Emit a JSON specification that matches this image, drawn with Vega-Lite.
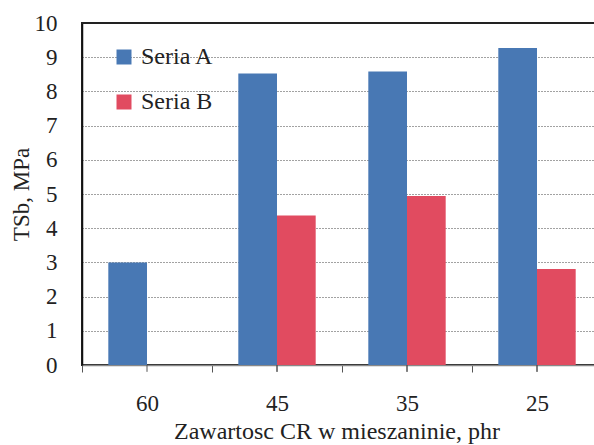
{
  "$schema": "https://vega.github.io/schema/vega-lite/v6.json",
  "width": 513,
  "height": 342,
  "autosize": {"type": "none"},
  "padding": {"left": 82, "top": 23, "right": 0, "bottom": 80},
  "background": "white",
  "view": {"stroke": "#222", "strokeWidth": 2},
  "config": {
    "font": "Liberation Serif",
    "axisY": {
      "values": [0, 1, 2, 3, 4, 5, 6, 7, 8, 9, 10], "tickCount": 11, "labelOverlap": false,
      "grid": true, "ticks": false, "labelPadding": 25, "labelFontSize": 23, "domainColor": "#111", "domainWidth": 1.5,
      "gridDash": [1, 2], "gridColor": "#444", "gridWidth": 1
    },
    "axis": {"labelFont": "Liberation Serif", "titleFont": "Liberation Serif", "labelColor": "#222", "titleColor": "#222", "titleFontWeight": "normal"}
  },
  "data": {
    "values": [
      {"cat": "60", "series": "Seria A", "value": 3.0},
      {"cat": "45", "series": "Seria A", "value": 8.52},
      {"cat": "45", "series": "Seria B", "value": 4.37},
      {"cat": "35", "series": "Seria A", "value": 8.58},
      {"cat": "35", "series": "Seria B", "value": 4.94},
      {"cat": "25", "series": "Seria A", "value": 9.27},
      {"cat": "25", "series": "Seria B", "value": 2.81}
    ]
  },
  "encoding": {
    "x": {
      "field": "cat", "type": "nominal",
      "scale": {"domain": ["60", "45", "35", "25"], "range": [0, 520], "paddingInner": 0, "paddingOuter": 0},
      "axis": {
        "title": "Zawartosc CR w mieszaninie, phr",
        "labelFont": "Liberation Serif", "titleFont": "Liberation Serif",
        "titleFontSize": 24, "titleX": 254.5, "titlePadding": 4,
        "labelAngle": 0, "labelFontSize": 23, "labelPadding": 20,
        "tickBand": "extent", "tickSize": 7, "tickColor": "#555", "tickWidth": 1,
        "domainColor": "#888", "domainWidth": 1.5, "grid": false
      }
    }
  },
  "layer": [
    {
      "mark": {"type": "bar"},
      "encoding": {
        "y": {
          "field": "value", "type": "quantitative",
          "scale": {"domain": [0, 10], "nice": false, "zero": true},
          "axis": {
            "title": "TSb, MPa", "titleFontSize": 23, "titlePadding": 1,
            "labelFont": "Liberation Serif", "titleFont": "Liberation Serif",
            "values": [0, 1, 2, 3, 4, 5, 6, 7, 8, 9, 10], "labelOverlap": false, "tickCount": 11,
            "labelFontSize": 23, "labelPadding": 25, "ticks": false,
            "domainColor": "#111", "domainWidth": 1.5, "grid": true,
            "gridDash": [1, 2], "gridColor": "#444", "gridWidth": 1
          }
        },
        "xOffset": {"field": "series", "type": "nominal", "scale": {"domain": ["Seria A", "Seria B"], "paddingInner": 0, "paddingOuter": 0.68}},
        "color": {
          "field": "series", "type": "nominal",
          "scale": {"domain": ["Seria A", "Seria B"], "range": ["#4878b4", "#e14b60"]},
          "legend": {
            "orient": "none", "legendX": 30, "legendY": 22, "title": null,
            "symbolType": "square", "symbolSize": 225, "symbolStrokeWidth": 0, "symbolOpacity": 1,
            "labelFont": "Liberation Serif", "labelFontSize": 24, "labelColor": "#222",
            "rowPadding": 21, "labelOffset": 5, "padding": 0
          }
        }
      }
    },
    {
      "mark": {"type": "rule", "color": "#555", "strokeWidth": 1},
      "encoding": {
        "y": {"datum": 0, "type": "quantitative", "axis": null},
        "y2": {"datum": -0.2}
      }
    },
    {
      "mark": {"type": "rule", "color": "#222", "strokeWidth": 2},
      "encoding": {
        "x": null,
        "y": {"datum": 10, "type": "quantitative", "axis": null}
      }
    }
  ],
  "resolve": {"axis": {"y": "independent"}}
}
